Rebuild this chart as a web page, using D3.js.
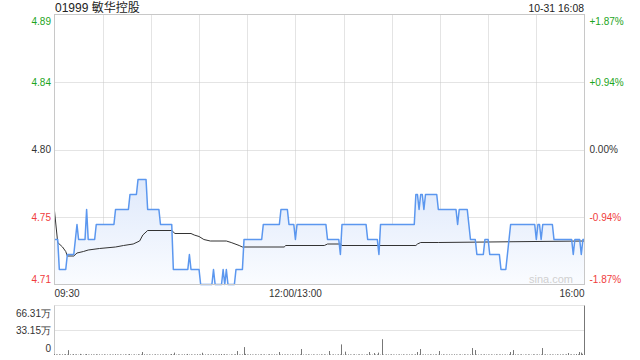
<!DOCTYPE html>
<html><head><meta charset="utf-8">
<script src="https://cdn.jsdelivr.net/npm/d3@7"></script>
<style>
html,body{margin:0;padding:0;background:#fff;}
svg{display:block;font-family:"Liberation Sans",Arial,"Noto Sans CJK SC",sans-serif;}
</style></head>
<body>
<svg id="c" width="640" height="360"></svg>
<script>
// ---------- data ----------
const stockTitle = "01999 敏华控股";
const stamp = "10-31 16:08";
const prevClose = 4.80;
const priceTicks = [4.71, 4.755, 4.80, 4.845, 4.89];
const priceTickLabels = ["4.71", "4.75", "4.80", "4.84", "4.89"];
const pctTickLabels = ["-1.87%", "-0.94%", "0.00%", "+0.94%", "+1.87%"];
const timeTicks = [0, 150, 330];
const timeTickLabels = ["09:30", "12:00/13:00", "16:00"];
const volTicks = [0, 33.155, 66.31];
const volTickLabels = ["0", "33.15万", "66.31万"];

// per-minute price (09:30 .. 16:00, lunch removed)
const prices = [
4.74,4.74,4.74,4.72,4.72,4.72,4.72,4.72,4.73,4.73,
4.73,4.73,4.73,4.74,4.75,4.74,4.74,4.74,4.74,4.74,
4.76,4.74,4.74,4.74,4.74,4.74,4.75,4.75,4.75,4.75,
4.75,4.75,4.75,4.75,4.75,4.75,4.75,4.75,4.76,4.76,
4.76,4.76,4.76,4.76,4.76,4.76,4.76,4.77,4.77,4.77,
4.77,4.77,4.78,4.78,4.78,4.78,4.78,4.78,4.76,4.76,
4.76,4.76,4.76,4.76,4.76,4.76,4.75,4.75,4.75,4.75,
4.75,4.75,4.75,4.75,4.72,4.72,4.72,4.72,4.72,4.72,
4.72,4.72,4.72,4.72,4.73,4.72,4.72,4.72,4.72,4.72,
4.72,4.71,4.71,4.71,4.71,4.71,4.71,4.71,4.71,4.72,
4.71,4.71,4.71,4.71,4.71,4.72,4.71,4.72,4.71,4.71,
4.71,4.71,4.71,4.72,4.72,4.72,4.72,4.72,4.74,4.74,
4.74,4.74,4.74,4.74,4.74,4.74,4.74,4.74,4.74,4.74,
4.75,4.75,4.75,4.75,4.75,4.75,4.75,4.75,4.75,4.75,
4.75,4.76,4.76,4.76,4.76,4.76,4.75,4.75,4.75,4.75,
4.74,4.75,4.75,4.75,4.75,4.75,4.75,4.75,4.75,4.75,
4.75,4.75,4.75,4.75,4.75,4.75,4.75,4.75,4.75,4.75,
4.74,4.74,4.74,4.74,4.74,4.74,4.74,4.74,4.73,4.75,
4.75,4.75,4.75,4.75,4.75,4.75,4.75,4.75,4.75,4.75,
4.75,4.75,4.75,4.75,4.75,4.74,4.74,4.74,4.74,4.74,
4.74,4.74,4.73,4.75,4.75,4.75,4.75,4.75,4.75,4.75,
4.75,4.75,4.75,4.75,4.75,4.75,4.75,4.75,4.75,4.75,
4.75,4.75,4.75,4.75,4.75,4.77,4.77,4.76,4.77,4.77,
4.76,4.77,4.77,4.77,4.77,4.77,4.77,4.77,4.77,4.76,
4.76,4.76,4.76,4.76,4.76,4.76,4.76,4.76,4.76,4.76,
4.76,4.75,4.76,4.76,4.76,4.76,4.76,4.76,4.75,4.74,
4.74,4.74,4.74,4.73,4.73,4.73,4.73,4.73,4.74,4.74,
4.74,4.73,4.73,4.73,4.73,4.73,4.73,4.73,4.72,4.72,
4.72,4.72,4.73,4.74,4.75,4.75,4.75,4.75,4.75,4.75,
4.75,4.75,4.75,4.75,4.75,4.75,4.75,4.75,4.75,4.75,
4.74,4.75,4.75,4.74,4.75,4.75,4.75,4.75,4.75,4.75,
4.75,4.74,4.74,4.74,4.74,4.74,4.74,4.74,4.74,4.74,
4.74,4.74,4.74,4.73,4.74,4.74,4.74,4.74,4.73,4.74,
4.74
];

// average price line, read at its turning points
const avgMinutes = [0,2,5,7,8,12,14,18,21,28,38,43,49,53,55,58,73,75,85,87,90,93,97,107,110,115,117,143,144,168,170,178,179,225,226,228,239,330];
const avgPrices = [4.759,4.738,4.735,4.732,4.729,4.729,4.731,4.732,4.733,4.734,4.735,4.736,4.737,4.739,4.743,4.746,4.746,4.744,4.744,4.743,4.742,4.740,4.739,4.739,4.738,4.736,4.735,4.735,4.736,4.736,4.737,4.737,4.736,4.736,4.737,4.738,4.738,4.739];

// per-minute volume, 万 shares (last = closing auction)
const volumes = [
1.2,0.8,0.6,1.0,0.5,0.9,0.7,1.1,0.6,6.5,
0.8,0.5,1.2,0.6,0.9,0.4,1.5,0.7,0.5,0.8,
1.3,0.6,0.4,0.9,0.7,0.5,1.0,0.6,0.8,0.4,
0.6,0.9,0.5,0.7,0.4,0.8,0.6,0.5,1.1,0.7,
0.5,0.8,0.4,0.6,0.9,0.5,0.7,1.2,0.6,0.4,
0.8,0.5,1.0,0.6,0.7,4.0,0.9,0.5,0.6,0.8,
0.4,0.7,0.5,0.9,0.6,0.4,0.8,0.5,0.7,0.6,
0.9,0.5,0.6,1.3,0.7,3.2,0.5,0.8,0.6,0.4,
0.7,0.9,0.5,1.4,0.6,0.8,0.4,0.7,0.5,1.0,
0.6,0.8,3.0,0.5,0.7,0.4,0.9,0.6,0.5,1.2,
0.4,0.7,0.6,0.8,1.3,0.5,1.1,0.7,0.6,0.4,
0.8,0.5,0.7,0.9,5.3,0.6,0.4,0.8,10.6,1.5,
0.7,0.5,0.9,0.6,0.4,0.8,0.5,0.7,0.6,0.9,
0.5,0.8,0.4,0.7,1.0,0.6,0.5,0.8,0.7,0.4,
4.0,0.6,0.9,0.5,0.7,0.8,0.4,0.6,0.9,0.5,
0.7,0.6,0.5,0.8,8.0,0.6,0.4,0.7,0.9,0.5,
0.6,0.8,0.5,0.4,0.7,0.6,0.9,0.5,0.8,0.6,
0.4,5.3,0.7,0.5,0.8,0.6,0.4,0.9,0.7,14.2,
0.6,4.5,0.5,0.8,0.7,0.4,0.6,0.9,0.5,0.7,
0.8,0.5,0.6,0.4,0.7,0.9,4.0,0.6,0.5,2.6,
0.7,0.8,3.2,0.5,21.2,0.6,0.4,0.8,0.7,0.5,
0.9,0.6,0.4,0.7,0.5,0.8,0.6,0.9,0.4,0.7,
0.5,0.8,0.6,0.7,0.4,0.9,4.0,0.6,8.0,0.5,
0.7,0.8,0.4,0.6,0.9,0.5,0.7,0.6,0.8,0.4,
5.3,0.6,0.9,0.5,0.7,0.4,0.8,0.6,0.5,0.9,
0.7,0.4,0.6,0.8,0.5,0.9,0.6,0.7,0.4,0.8,
9.3,0.5,6.6,0.7,0.6,0.4,0.8,0.5,0.9,0.6,
0.7,0.5,0.8,0.4,0.6,0.9,0.5,0.7,0.6,0.8,
0.4,0.7,0.5,1.0,4.0,0.6,6.6,0.8,0.5,0.7,
0.6,0.9,0.4,0.7,0.5,0.8,0.6,0.4,0.9,0.7,
0.5,0.8,0.6,0.7,9.3,0.5,0.9,0.6,0.4,0.8,
0.7,0.5,0.6,0.9,0.4,0.8,0.6,0.7,0.5,0.9,
2.6,0.6,0.8,0.5,0.7,1.2,0.9,4.0,3.2,1.6,
66.31
];

// ---------- drawing ----------
const GREEN = "#1ea51e", RED = "#f03c3c", DARK = "#333";
const svg = d3.select("#c");
const L = 54.5, R = 584.5, T = 14.5, B = 284.5;
const VT = 305.5, VB = 355;

const x = d3.scaleLinear().domain([0, 330]).range([L, R]);
const y = d3.scaleLinear().domain([4.71, 4.89]).range([B, T]);
const yv = d3.scaleLinear().domain([0, 66.31]).range([VB, VT]);
const px = v => Math.round(v) + 0.5;
const colorFor = v => Math.abs(v - prevClose) < 1e-9 ? DARK : (v > prevClose ? GREEN : RED);

// gradient
const defs = svg.append("defs");
const grad = defs.append("linearGradient").attr("id", "ag").attr("x1", 0).attr("y1", 0).attr("x2", 0).attr("y2", 1);
grad.append("stop").attr("offset", "0%").attr("stop-color", "#dfe9fb");
grad.append("stop").attr("offset", "100%").attr("stop-color", "#fafcff");

// grid lines (main)
const gridT = d3.range(30, 330, 30);
svg.append("g").selectAll("line").data(gridT).join("line")
  .attr("x1", d => px(x(d))).attr("x2", d => px(x(d)))
  .attr("y1", T).attr("y2", B)
  .attr("stroke", "#c8c8c8").attr("stroke-dasharray", "1,1");
svg.append("g").selectAll("line").data(priceTicks.slice(1, 4)).join("line")
  .attr("x1", L).attr("x2", R)
  .attr("y1", d => px(y(d))).attr("y2", d => px(y(d)))
  .attr("stroke", "#c8c8c8").attr("stroke-dasharray", "1,1");

// area + lines
const area = d3.area().x((d, i) => x(i)).y0(B).y1(d => y(d));
svg.append("path").datum(prices).attr("d", area).attr("fill", "url(#ag)");

const avgData = avgMinutes.map((m, i) => [m, avgPrices[i]]);
svg.append("path").datum(avgData)
  .attr("d", d3.line().x(d => x(d[0])).y(d => y(d[1])))
  .attr("fill", "none").attr("stroke", "#333").attr("stroke-width", 1);

svg.append("path").datum(prices)
  .attr("d", d3.line().x((d, i) => x(i)).y(d => y(d)))
  .attr("fill", "none").attr("stroke", "#5b97ef").attr("stroke-width", 1.5)
  .attr("stroke-linejoin", "round");

// frame
svg.append("rect").attr("x", L).attr("y", T).attr("width", R - L).attr("height", B - T)
  .attr("fill", "none").attr("stroke", "#c8c8c8");

// watermark
svg.append("text").attr("x", 573).attr("y", 283).attr("text-anchor", "end")
  .attr("font-size", 11).attr("fill", "#d0d0d0").text("sina.com");

// left price axis
const ax = d3.axisLeft(y).tickValues(priceTicks).tickSize(0).tickPadding(3)
  .tickFormat((d, i) => priceTickLabels[i]);
const gL = svg.append("g").attr("transform", `translate(${L - 0.5},0)`).call(ax);
gL.select(".domain").remove();
gL.selectAll("text").attr("font-size", 10).attr("font-family", null)
  .attr("fill", d => colorFor(d))
  .attr("dy", (d, i) => i === 0 ? "-0.2em" : (i === 4 ? "0.95em" : "0.32em"));

// right percent axis
const ay = d3.axisRight(y).tickValues(priceTicks).tickSize(0).tickPadding(5)
  .tickFormat((d, i) => pctTickLabels[i]);
const gR = svg.append("g").attr("transform", `translate(${R},0)`).call(ay);
gR.select(".domain").remove();
gR.selectAll("text").attr("font-size", 10).attr("font-family", null)
  .attr("fill", d => colorFor(d))
  .attr("dy", (d, i) => i === 0 ? "-0.2em" : (i === 4 ? "0.95em" : "0.32em"));

// time axis labels
const gx = svg.append("g");
gx.selectAll("text").data(timeTicks).join("text")
  .attr("x", (d, i) => i === 0 ? x(d) : (i === 2 ? x(d) : x(d)))
  .attr("y", 297)
  .attr("text-anchor", (d, i) => i === 0 ? "start" : (i === 2 ? "end" : "middle"))
  .attr("font-size", 10).attr("fill", DARK)
  .text((d, i) => timeTickLabels[i]);

// title + stamp
svg.append("text").attr("x", 55).attr("y", 11.5).attr("font-size", 12).attr("fill", "#222").text(stockTitle);
svg.append("text").attr("x", 584).attr("y", 11.5).attr("text-anchor", "end").attr("font-size", 10.4).attr("fill", "#222").text(stamp);

// volume grid
svg.append("g").selectAll("line").data(volTicks.slice(1)).join("line")
  .attr("x1", L).attr("x2", R)
  .attr("y1", d => px(yv(d) - 0.5)).attr("y2", d => px(yv(d) - 0.5))
  .attr("stroke", "#c8c8c8").attr("stroke-dasharray", "1,1");
svg.append("line").attr("x1", L).attr("x2", L).attr("y1", VT).attr("y2", VB)
  .attr("stroke", "#c8c8c8");

// volume bars
svg.append("g").selectAll("line").data(volumes).join("line")
  .attr("x1", (d, i) => px(x(i) - 0.5)).attr("x2", (d, i) => px(x(i) - 0.5))
  .attr("y1", yv(0)).attr("y2", d => yv(d))
  .attr("stroke", "#777").attr("stroke-width", 1);

// volume axis labels
const av = d3.axisLeft(yv).tickValues(volTicks).tickSize(0).tickPadding(3)
  .tickFormat((d, i) => volTickLabels[i]);
const gV = svg.append("g").attr("transform", `translate(${L - 0.5},0)`).call(av);
gV.select(".domain").remove();
gV.selectAll("text").attr("font-size", 10).attr("font-family", null).attr("fill", DARK)
  .attr("dy", (d, i) => i === 0 ? "-0.35em" : (i === 2 ? "1.05em" : "0.32em"));
</script>
</body></html>
